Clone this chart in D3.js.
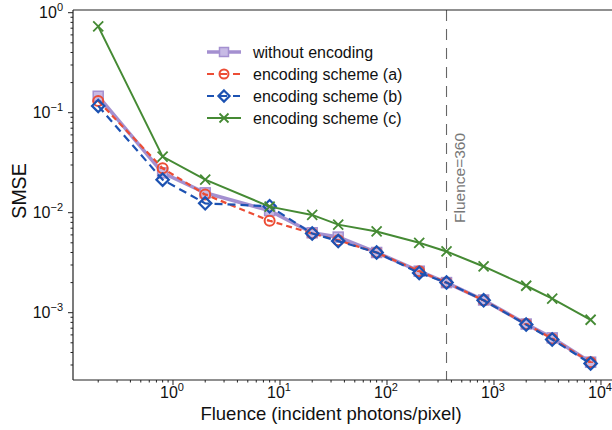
<!DOCTYPE html>
<html lang="en">
  <head>
    <meta charset="UTF-8" />
    <title>SMSE vs Fluence</title>
    <script src="https://d3js.org/d3.v7.min.js"></script>
    <style>
      body { margin: 0; background: #fff; }
      text { font-family: "Liberation Sans", Arial, sans-serif; fill: #111; }
    </style>
  </head>
  <body>
    <div id="chart"></div>
    <script>
      // data
      const fluence = [0.2, 0.8, 2, 8, 20, 35, 80, 200, 360, 800, 2000, 3500, 8000];
      const withoutEnc = [0.146, 0.025, 0.0158, 0.0105, 0.0063, 0.0057, 0.0040, 0.0026, 0.0020, 0.00134, 0.00077, 0.00056, 0.00032];
      const schemeA = [0.131, 0.0278, 0.0152, 0.0083, 0.0062, 0.0053, 0.0040, 0.0026, 0.0020, 0.00133, 0.00077, 0.00055, 0.00032];
      const schemeB = [0.117, 0.0214, 0.0124, 0.0116, 0.0062, 0.0052, 0.0040, 0.0025, 0.0020, 0.00133, 0.00076, 0.00054, 0.00031];
      const schemeC = [0.73, 0.0364, 0.0214, 0.0115, 0.0095, 0.0076, 0.0065, 0.0050, 0.0041, 0.0029, 0.00186, 0.00138, 0.00085];
      const seriesNames = ["without encoding", "encoding scheme (a)", "encoding scheme (b)", "encoding scheme (c)"];
      const xTickExp = [0, 1, 2, 3, 4];
      const yTickExp = [0, -1, -2, -3];
      const refFluence = 360;

      const W = 612, H = 430;
      const mLeft = 73, mTop = 10, mRight = 615, mBottom = 380;

      const svg = d3.select("#chart").append("svg")
        .attr("width", W).attr("height", H);

      const x = d3.scaleLog().domain([Math.pow(10, -0.9346), Math.pow(10, 4.131)]).range([mLeft, mRight]);
      const y = d3.scaleLog().domain([Math.pow(10, -3.673), Math.pow(10, 0.027)]).range([mBottom, mTop]);

      const styles = [
        { color: "#9b85cc", width: 3.6, dash: null, marker: "square", opacity: 0.9 },
        { color: "#ec4d35", width: 2.2, dash: "6,4", marker: "circle", opacity: 1 },
        { color: "#1c52b2", width: 2.2, dash: "8,5", marker: "diamond", opacity: 1 },
        { color: "#458a34", width: 2, dash: null, marker: "cross", opacity: 1 }
      ];
      const allSeries = [withoutEnc, schemeA, schemeB, schemeC];

      // reference line
      svg.append("line")
        .attr("x1", x(refFluence)).attr("x2", x(refFluence))
        .attr("y1", mTop).attr("y2", mBottom)
        .attr("stroke", "#666").attr("stroke-width", 1.1)
        .attr("stroke-dasharray", "11,8");
      svg.append("text")
        .attr("transform", `translate(${x(refFluence) + 18},223) rotate(-90)`)
        .attr("text-anchor", "start")
        .style("font-size", "15.5px").style("fill", "#777")
        .text("Fluence=360");

      function drawMarker(g, type, color, px, py, s) {
        if (type === "square") {
          g.append("rect").attr("x", px - s / 2).attr("y", py - s / 2)
            .attr("width", s).attr("height", s)
            .attr("fill", "#c2b3e3").attr("stroke", color).attr("stroke-width", 1.5);
        } else if (type === "circle") {
          g.append("circle").attr("cx", px).attr("cy", py).attr("r", s / 2)
            .attr("fill", "none").attr("stroke", color).attr("stroke-width", 2);
          g.append("line").attr("x1", px - s / 4).attr("x2", px + s / 4)
            .attr("y1", py).attr("y2", py).attr("stroke", color).attr("stroke-width", 1.5);
        } else if (type === "diamond") {
          const r = s * 0.62;
          g.append("path")
            .attr("d", `M${px},${py - r}L${px + r},${py}L${px},${py + r}L${px - r},${py}Z`)
            .attr("fill", "none").attr("stroke", color).attr("stroke-width", 2.2);
        } else {
          const r = s / 2;
          g.append("path")
            .attr("d", `M${px - r},${py - r}L${px + r},${py + r}M${px - r},${py + r}L${px + r},${py - r}`)
            .attr("stroke", color).attr("stroke-width", 1.8);
        }
      }

      const line = d3.line().x((d, i) => x(fluence[i])).y(d => y(d));

      allSeries.forEach((vals, k) => {
        const st = styles[k];
        const g = svg.append("g").attr("opacity", st.opacity);
        g.append("path").datum(vals)
          .attr("d", line)
          .attr("fill", "none").attr("stroke", st.color)
          .attr("stroke-width", st.width)
          .attr("stroke-dasharray", st.dash);
        vals.forEach((v, i) => drawMarker(g, st.marker, st.color, x(fluence[i]), y(v), 10));
      });

      // top spine
      svg.append("line").attr("x1", mLeft).attr("x2", mRight).attr("y1", mTop).attr("y2", mTop)
        .attr("stroke", "#222").attr("stroke-width", 1.2);

      const isMajor = d => Math.abs(Math.log10(d) - Math.round(Math.log10(d))) < 1e-9;

      // x axis
      const xMinor = [];
      for (let e = -1; e <= 4; e++) for (let m = 1; m < 10; m++) {
        const v = m * Math.pow(10, e);
        if (v >= x.domain()[0] && v <= x.domain()[1]) xMinor.push(v);
      }
      const xAxis = svg.append("g").attr("transform", `translate(0,${mBottom})`);
      xAxis.append("line").attr("x1", mLeft).attr("x2", mRight).attr("stroke", "#222").attr("stroke-width", 1.2);
      xAxis.selectAll(".minor").data(xMinor).join("line")
        .attr("x1", d => x(d)).attr("x2", d => x(d))
        .attr("y1", 0).attr("y2", d => isMajor(d) ? 5 : 2.5)
        .attr("stroke", "#222").attr("stroke-width", 1);
      const xl = xAxis.selectAll(".lab").data(xTickExp).join("text")
        .attr("x", d => x(Math.pow(10, d)) - 1).attr("y", 18)
        .attr("text-anchor", "middle").style("font-size", "16px");
      xl.append("tspan").text("10");
      xl.append("tspan").attr("dy", -7).style("font-size", "11px").text(d => d);

      // y axis
      const yMinor = [];
      for (let e = -4; e <= 0; e++) for (let m = 1; m < 10; m++) {
        const v = m * Math.pow(10, e);
        if (v >= y.domain()[0] && v <= y.domain()[1]) yMinor.push(v);
      }
      const yAxis = svg.append("g").attr("transform", `translate(${mLeft},0)`);
      yAxis.append("line").attr("y1", mTop).attr("y2", mBottom).attr("stroke", "#222").attr("stroke-width", 1.2);
      yAxis.selectAll(".minor").data(yMinor).join("line")
        .attr("y1", d => y(d)).attr("y2", d => y(d))
        .attr("x1", 0).attr("x2", d => isMajor(d) ? -5 : -2.5)
        .attr("stroke", "#222").attr("stroke-width", 1);
      const yl = yAxis.selectAll(".lab").data(yTickExp).join("text")
        .attr("x", -10).attr("y", d => y(Math.pow(10, d)) + 5.5)
        .attr("text-anchor", "end").style("font-size", "16px");
      yl.append("tspan").text("10");
      yl.append("tspan").attr("dy", -7).style("font-size", "11px").text(d => d === 0 ? "0" : "\u2212" + Math.abs(d));

      // axis titles
      svg.append("text").attr("x", 331).attr("y", 420).attr("text-anchor", "middle")
        .style("font-size", "18.5px").text("Fluence (incident photons/pixel)");
      svg.append("text").attr("transform", "translate(26,191) rotate(-90)")
        .attr("text-anchor", "middle").style("font-size", "19.5px").text("SMSE");

      // legend
      const leg = svg.append("g");
      seriesNames.forEach((name, k) => {
        const st = styles[k];
        const ly = 52 + k * 22;
        const g = leg.append("g").attr("opacity", st.opacity);
        g.append("line").attr("x1", 207).attr("x2", 241).attr("y1", ly).attr("y2", ly)
          .attr("stroke", st.color).attr("stroke-width", st.width)
          .attr("stroke-dasharray", st.dash ? "7,6" : null);
        drawMarker(g, st.marker, st.color, 224, ly, 9);
        leg.append("text").attr("x", 253).attr("y", ly + 5.5).style("font-size", "16px").text(name);
      });
    </script>
  </body>
</html>
